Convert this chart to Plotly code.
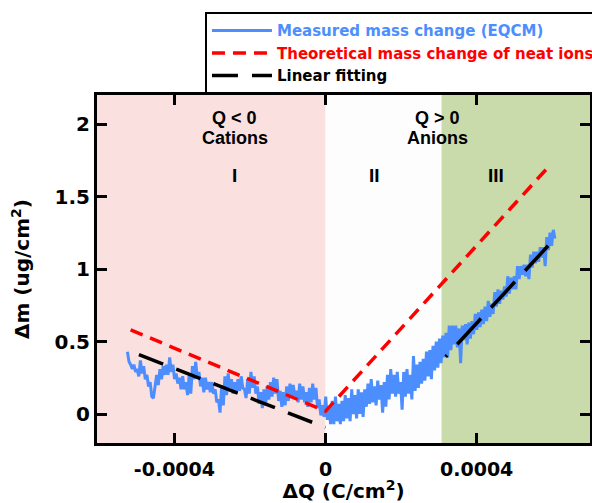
import numpy as np
import plotly.graph_objects as go

# ---------------- data ----------------
Q_START = -0.0005245          # first measured charge point (C/cm^2)
Q_END = 0.0006071             # last measured charge point (C/cm^2)
DM_MEASURED = [
    0.43, 0.36, 0.34, 0.31, 0.34, 0.29, 0.31, 0.26, 0.37, 0.28,
    0.33, 0.24, 0.27, 0.19, 0.22, 0.12, 0.11, 0.18, 0.27, 0.20,
    0.31, 0.24, 0.33, 0.27, 0.34, 0.27, 0.39, 0.29, 0.34, 0.24,
    0.28, 0.21, 0.25, 0.17, 0.26, 0.17, 0.22, 0.13, 0.27, 0.14,
    0.33, 0.24, 0.36, 0.25, 0.29, 0.19, 0.25, 0.15, 0.25, 0.17,
    0.22, 0.15,
    0.22, 0.14, 0.17, 0.08, 0.10, 0.01, 0.20, 0.06, 0.26, 0.13,
    0.28, 0.18, 0.24, 0.14, 0.22, 0.14, 0.24, 0.16, 0.26, 0.18,
    0.17, 0.11, 0.24, 0.14, 0.29, 0.18, 0.26, 0.14, 0.19, 0.07,
    0.15, 0.04, 0.17, 0.06, 0.19, 0.10, 0.22, 0.12, 0.25, 0.14,
    0.24, 0.09, 0.16, 0.05, 0.15, 0.06, 0.19, 0.09, 0.21, 0.11,
    0.20, 0.12,
    0.16, 0.08, 0.21, 0.10, 0.19, 0.08, 0.15, 0.05, 0.18, 0.08,
    0.21, 0.10, 0.18, 0.04, 0.10, -0.01, 0.06, -0.02, 0.12, -0.04,
    0.05, -0.07, 0.09, -0.07, 0.12, -0.05, 0.07, -0.07, 0.09, -0.05,
    0.13, -0.03, 0.11, -0.05, 0.17, 0.00, 0.13, -0.03, 0.17, 0.00,
    0.15, -0.02, 0.17, 0.05, 0.21, 0.07, 0.24, 0.08, 0.19, 0.06,
    0.23, 0.10,
    0.20, 0.01, 0.22, 0.05, 0.27, 0.10, 0.31, 0.14, 0.27, 0.12,
    0.29, 0.14, 0.22, 0.03, 0.29, 0.12, 0.31, 0.14, 0.27, 0.10,
    0.40, 0.16, 0.34, 0.18, 0.36, 0.21, 0.38, 0.23, 0.43, 0.26,
    0.44, 0.24, 0.47, 0.30, 0.50, 0.32, 0.52, 0.35, 0.54, 0.39,
    0.56, 0.39, 0.61, 0.44, 0.61, 0.48, 0.61, 0.46, 0.59, 0.35,
    0.61, 0.51,
    0.62, 0.48, 0.63, 0.52, 0.64, 0.55, 0.69, 0.58, 0.70, 0.60,
    0.72, 0.62, 0.74, 0.64, 0.78, 0.67, 0.76, 0.69, 0.84, 0.74,
    0.86, 0.76, 0.85, 0.79, 0.88, 0.81, 0.95, 0.83, 0.94, 0.86,
    0.95, 0.86, 1.02, 0.93, 1.02, 0.96, 1.03, 0.95, 1.03, 0.93,
    1.10, 1.01, 1.12, 1.04, 1.12, 1.05, 1.15, 1.08, 1.15, 1.02,
    1.22, 1.13, 1.25, 1.16, 1.27, 1.21,
]
Q_MEASURED = np.linspace(Q_START, Q_END, len(DM_MEASURED))

THEO_Q = [-0.000516, 0.0, 0.000585]
THEO_DM = [0.58, 0.02, 1.69]

FIT_LEFT_Q = [-0.000494, 0.0]
FIT_LEFT_DM = [0.41, -0.093]
FIT_RIGHT_Q = [0.000318, 0.000589]
FIT_RIGHT_DM = [0.395, 1.16]

SERIES_NAMES = ["Measured mass change (EQCM)",
                "Theoretical mass change of neat ions",
                "Linear fitting"]

X_RANGE = [-0.000605, 0.0007]
Y_RANGE = [-0.2, 2.2]
X_TICKS = [-0.0004, 0.0, 0.0004]
X_TICK_TEXT = ["-0.0004", "0", "0.0004"]
Y_TICKS = [0, 0.5, 1, 1.5, 2]
Y_TICK_TEXT = ["0", "0.5", "1", "1.5", "2"]

REGION_EDGES = [X_RANGE[0], 0.0, 0.000307, X_RANGE[1]]
REGION_COLORS = ["#FBE0E0", "#FDFDFD", "#C9DBAA"]

REGION_LABELS = [
    ("Q &lt; 0", -0.00024, 2.04),
    ("Cations", -0.00024, 1.905),
    ("Q &gt; 0", 0.000297, 2.04),
    ("Anions", 0.000297, 1.905),
    ("I", -0.00024, 1.645),
    ("II", 0.000129, 1.645),
    ("III", 0.00045, 1.645),
]

# ---------------- styles ----------------
BLUE = "#4D8EFF"
RED = "#FF0000"
BLACK = "#000000"
FONT_D = "DejaVu Sans"
FONT_A = "Arial, Liberation Sans, sans-serif"

fig = go.Figure()

fig.add_trace(go.Scatter(
    x=Q_MEASURED, y=DM_MEASURED, mode="lines",
    name=f"<span style='color:{BLUE}'>{SERIES_NAMES[0]}</span>",
    line=dict(color=BLUE, width=3),
))
fig.add_trace(go.Scatter(
    x=THEO_Q, y=THEO_DM, mode="lines",
    name=f"<span style='color:{RED}'>{SERIES_NAMES[1]}</span>",
    line=dict(color=RED, width=3.5, dash="13px,8px"),
))
fig.add_trace(go.Scatter(
    x=FIT_LEFT_Q, y=FIT_LEFT_DM, mode="lines",
    name=f"<span style='color:{BLACK}'>{SERIES_NAMES[2]}</span>",
    line=dict(color=BLACK, width=3.5, dash="26px,14px"),
))
fig.add_trace(go.Scatter(
    x=FIT_RIGHT_Q, y=FIT_RIGHT_DM, mode="lines",
    name=SERIES_NAMES[2], showlegend=False,
    line=dict(color=BLACK, width=3.5, dash="2px,15px,33px,0px"),
))

for i, col in enumerate(REGION_COLORS):
    fig.add_shape(type="rect", xref="x", yref="paper",
                  x0=REGION_EDGES[i], x1=REGION_EDGES[i + 1], y0=0, y1=1,
                  fillcolor=col, line=dict(width=0), layer="below")

for text, xv, yv in REGION_LABELS:
    size = 19 if text.startswith("I") else 18
    fig.add_annotation(x=xv, y=yv, xref="x", yref="y", text=text,
                       showarrow=False,
                       font=dict(family=FONT_A, size=size, color=BLACK,
                                 weight="bold"))

axis_common = dict(showline=True, linewidth=3, linecolor=BLACK,
                   mirror="allticks", ticks="inside", ticklen=10,
                   tickwidth=3, tickcolor=BLACK, showgrid=False,
                   zeroline=False)

fig.update_xaxes(range=X_RANGE, tickvals=X_TICKS, ticktext=X_TICK_TEXT,
                 ticklabelstandoff=7,
                 tickfont=dict(family=FONT_D, size=19, color=BLACK,
                               weight="bold"),
                 title=dict(text="ΔQ (C/cm<sup>2</sup>)", standoff=14,
                            font=dict(family=FONT_D, size=20, color=BLACK,
                                      weight="bold")),
                 **axis_common)
fig.update_yaxes(range=Y_RANGE, tickvals=Y_TICKS, ticktext=Y_TICK_TEXT,
                 tickfont=dict(family=FONT_D, size=20, color=BLACK,
                               weight="bold"),
                 title=dict(text="Δm (ug/cm<sup>2</sup>)", standoff=20,
                            font=dict(family=FONT_D, size=20, color=BLACK,
                                      weight="bold")),
                 **axis_common)

fig.update_layout(
    width=592, height=503,
    margin=dict(l=97, r=2, t=95, b=60, autoexpand=False),
    plot_bgcolor="white", paper_bgcolor="white",
    legend=dict(x=0.219, xanchor="left", y=1.238, yanchor="top",
                bgcolor="white", bordercolor=BLACK, borderwidth=2,
                itemwidth=60,
                font=dict(family=FONT_D, size=15, weight="bold"),
                tracegroupgap=0),
)

# Let the 592x503 figure fill the window exactly (no default page margin).
fig.write_html(
    "out.html",
    config={"displayModeBar": False},
    post_script="document.body.style.margin='0';"
                "document.body.style.overflow='hidden';",
)
